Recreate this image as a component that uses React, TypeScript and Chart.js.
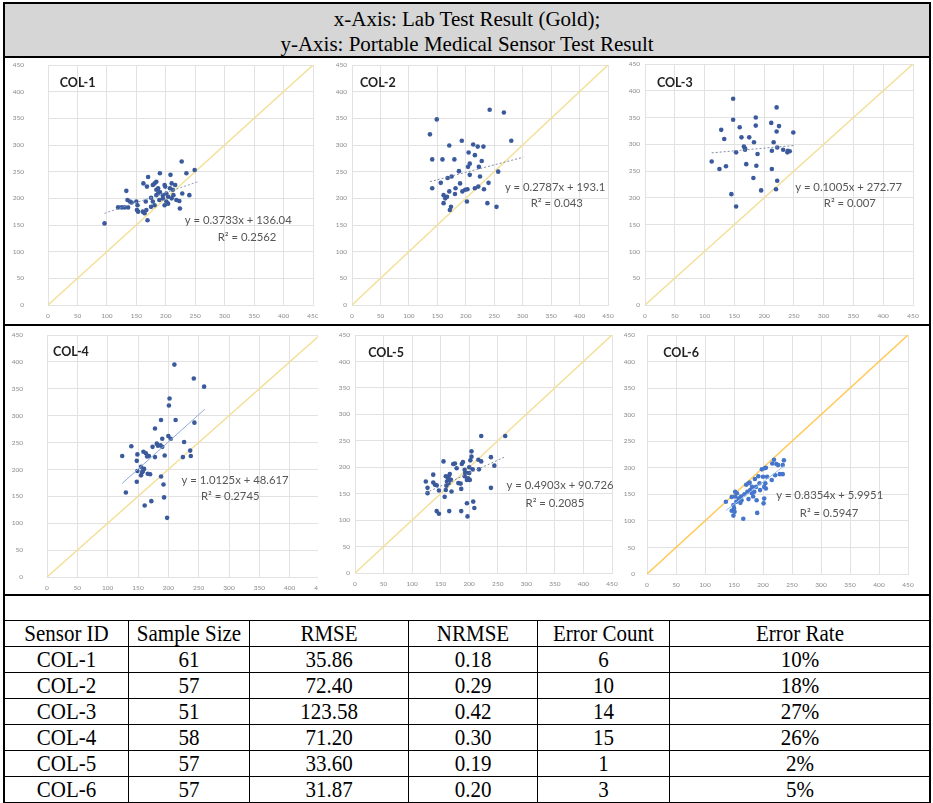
import React, { useEffect, useRef } from "react";
import { Chart, registerables } from "chart.js";

Chart.register(...registerables);

// ---------- DATA ----------
const axisMin = 0;
const axisMax = 450;
const axisStep = 50;

const col1Points: number[][] = [
  [96, 153], [119, 183], [125, 183], [130, 183], [136, 183], [133, 214], [135, 197], [139, 194], [142, 192], [150, 194],
  [151, 178], [152, 187], [153, 175], [161, 175], [164, 172], [167, 178], [166, 194], [162, 228], [168, 222], [170, 240],
  [169, 159], [175, 201], [178, 194], [178, 225], [181, 228], [184, 231], [184, 216], [187, 209], [189, 197], [190, 247],
  [195, 206], [198, 225], [198, 187], [201, 194], [201, 209], [204, 203], [207, 219], [208, 244], [210, 228], [210, 200],
  [212, 216], [213, 206], [218, 197], [223, 195], [224, 181], [227, 269], [228, 209], [240, 206], [235, 247], [249, 253],
  [184, 206], [190, 212], [175, 184], [181, 187], [195, 200], [204, 190], [187, 219], [199, 222], [216, 225],
];

const col2Points: number[][] = [
  [137, 320], [149, 348], [141, 273], [141, 219], [159, 273], [156, 229], [161, 206], [161, 191], [164, 200], [167, 203],
  [168, 238], [171, 299], [171, 213], [175, 241], [174, 184], [172, 178], [180, 273], [181, 208], [182, 219], [188, 251],
  [190, 228], [193, 308], [194, 213], [199, 216], [202, 194], [203, 217], [204, 259], [205, 286], [207, 265], [207, 244],
  [213, 301], [216, 281], [216, 219], [221, 297], [222, 222], [223, 259], [225, 241], [228, 270], [231, 297], [232, 217],
  [238, 191], [240, 229], [242, 366], [254, 184], [257, 250], [267, 361], [280, 308],
];

const col3Points: number[][] = [
  [148, 385], [148, 346], [128, 327], [133, 310], [112, 268], [125, 254], [136, 259], [145, 207], [153, 285], [153, 184],
  [159, 332], [162, 313], [166, 296], [168, 292], [170, 263], [175, 313], [182, 237], [183, 304], [186, 335], [186, 350],
  [187, 260], [189, 282], [195, 214], [212, 340], [213, 288], [213, 254], [216, 304], [220, 216], [221, 324], [221, 369],
  [222, 294], [222, 232], [225, 334], [232, 290], [239, 285], [240, 288], [243, 287], [249, 322], [168, 290],
];

const col4Points: number[][] = [
  [124, 225], [130, 157], [139, 243], [149, 228], [148, 216], [148, 177], [149, 197], [155, 189], [157, 195], [159, 233],
  [160, 201], [161, 133], [163, 230], [166, 192], [168, 225], [172, 141], [174, 242], [178, 276], [178, 223], [181, 248],
  [187, 245], [188, 292], [188, 187], [190, 257], [190, 242], [192, 172], [193, 148], [194, 226], [198, 110], [200, 262],
  [201, 319], [202, 332], [204, 257], [210, 395], [212, 292], [224, 223], [226, 251], [236, 235], [237, 225], [242, 369],
  [243, 287], [259, 354], [170, 191], [183, 244], [165, 224], [155, 205], [158, 197],
];

const col5Points: number[][] = [
  [124, 173], [127, 161], [127, 151], [137, 186], [137, 171], [140, 167], [143, 117], [147, 112], [147, 156], [155, 211],
  [157, 144], [159, 157], [161, 173], [164, 183], [165, 117], [166, 187], [168, 176], [169, 154], [172, 206], [178, 198],
  [181, 170], [186, 159], [186, 117], [187, 206], [192, 183], [196, 176], [196, 132], [197, 107], [200, 189], [202, 213],
  [204, 230], [204, 220], [206, 196], [207, 135], [209, 123], [216, 214], [217, 196], [221, 211], [221, 259], [238, 161],
  [238, 219], [244, 203], [263, 259], [159, 183], [164, 170], [192, 195], [196, 189], [200, 200], [143, 166], [160, 165],
  [163, 178], [185, 169], [198, 179], [201, 176], [193, 189], [175, 207], [189, 210],
];

const col6Points: number[][] = [
  [136, 136], [146, 119], [149, 110], [149, 130], [152, 146], [152, 155], [155, 152], [158, 142], [161, 134], [163, 139],
  [166, 104], [171, 168], [173, 155], [175, 141], [177, 172], [178, 158], [181, 152], [183, 146], [186, 179], [188, 164],
  [189, 139], [190, 115], [192, 184], [194, 171], [195, 158], [198, 197], [200, 183], [201, 133], [202, 142], [202, 164],
  [204, 171], [205, 200], [205, 161], [215, 177], [216, 208], [219, 215], [223, 207], [221, 186], [234, 205], [234, 188],
  [236, 214], [154, 136], [162, 146], [181, 164], [207, 183], [150, 124], [151, 117], [146, 145], [203, 199], [226, 205],
  [229, 188], [175, 171], [168, 150], [185, 155],
];

const allPoints = [col1Points, col2Points, col3Points, col4Points, col5Points, col6Points];

const sensorIds = ["COL-1", "COL-2", "COL-3", "COL-4", "COL-5", "COL-6"];
const slopes = [0.3733, 0.2787, 0.1005, 1.0125, 0.4903, 0.8354];
const intercepts = [136.04, 193.1, 272.77, 48.617, 90.726, 5.9951];
const trendStart = [96, 137, 112, 124, 124, 136];
const trendEnd = [255, 301, 252, 260, 263, 236];
const equationLabels = [
  "y = 0.3733x + 136.04",
  "y = 0.2787x + 193.1",
  "y = 0.1005x + 272.77",
  "y = 1.0125x + 48.617",
  "y = 0.4903x + 90.726",
  "y = 0.8354x + 5.9951",
];
const r2Labels = ["R² = 0.2562", "R² = 0.043", "R² = 0.007", "R² = 0.2745", "R² = 0.2085", "R² = 0.5947"];

const headerLines = ["x-Axis: Lab Test Result (Gold);", "y-Axis: Portable Medical Sensor Test Result"];
const tableHeaders = ["Sensor ID", "Sample Size", "RMSE", "NRMSE", "Error Count", "Error Rate"];
const sampleSizes = ["61", "57", "51", "58", "57", "57"];
const rmseValues = ["35.86", "72.40", "123.58", "71.20", "33.60", "31.87"];
const nrmseValues = ["0.18", "0.29", "0.42", "0.30", "0.19", "0.20"];
const errorCounts = ["6", "10", "14", "15", "1", "3"];
const errorRates = ["10%", "18%", "27%", "26%", "2%", "5%"];

// ---------- LAYOUT / STYLE ----------
type Panel = {
  left: number; top: number; width: number; height: number;
  plotL: number; plotR: number; plotT: number; plotB: number;
  yGap: number;
  titleAt: [number, number]; eqAt: [number, number]; r2At: [number, number];
  diag: string; dot: string; trend: string; dash: number[];
};

const paleDiag = "rgba(242, 222, 150, 0.95)";
const darkDot = "#3a5a9c";
const panels: Panel[] = [
  { left: 5, top: 58, width: 313, height: 266, plotL: 48, plotR: 313, plotT: 65, plotB: 305, yGap: 24,
    titleAt: [20, 416], eqAt: [323, 159], r2At: [338, 127], diag: paleDiag, dot: darkDot, trend: "#8a9cba", dash: [2, 2] },
  { left: 318, top: 58, width: 305, height: 266, plotL: 352, plotR: 608, plotT: 65, plotB: 305, yGap: 5,
    titleAt: [14, 416], eqAt: [357, 221], r2At: [360, 191], diag: paleDiag, dot: darkDot, trend: "#7f8ca3", dash: [2, 2] },
  { left: 623, top: 58, width: 306, height: 266, plotL: 645, plotR: 913, plotT: 64, plotB: 305, yGap: 5,
    titleAt: [20, 415], eqAt: [342, 220], r2At: [344, 190], diag: paleDiag, dot: darkDot, trend: "#7f8ca3", dash: [2, 2] },
  { left: 5, top: 327, width: 325, height: 267, plotL: 47, plotR: 320, plotT: 335, plotB: 577, yGap: 24,
    titleAt: [10, 418], eqAt: [310, 180], r2At: [302, 150], diag: paleDiag, dot: darkDot, trend: "#8eaad8", dash: [] },
  { left: 318, top: 327, width: 305, height: 267, plotL: 355, plotR: 612, plotT: 335, plotB: 573, yGap: 5,
    titleAt: [23, 416], eqAt: [359, 166], r2At: [350, 132], diag: paleDiag, dot: darkDot, trend: "#7f8ca3", dash: [2, 2] },
  { left: 623, top: 327, width: 306, height: 267, plotL: 647, plotR: 908, plotT: 335, plotB: 574, yGap: 12,
    titleAt: [28, 416], eqAt: [315, 149], r2At: [314, 115], diag: "rgba(255, 196, 70, 0.9)", dot: "#4676cc", trend: "#9dc0e8", dash: [] },
];

const gridColor = "#e2e2e2";
const tickColor = "#8a8a8a";
const tickFont = { family: "Lato", size: 6.5 };

function ChartPanel({ idx }: { idx: number }) {
  const ref = useRef<HTMLCanvasElement | null>(null);
  const p = panels[idx];
  useEffect(() => {
    if (!ref.current) return;
    const relL = p.plotL - p.left;
    const relR = p.plotR - p.left;
    const relT = p.plotT - p.top;
    const relB = p.plotB - p.top;
    const pts = allPoints[idx].map(([x, y]) => ({ x, y }));
    const ts = trendStart[idx];
    const te = trendEnd[idx];
    const m = slopes[idx];
    const b = intercepts[idx];
    const ticks: number[] = [];
    for (let v = axisMin; v <= axisMax; v += axisStep) ticks.push(v);

    const annot = {
      id: "annot" + idx,
      afterDatasetsDraw(chart: any) {
        const { ctx, scales } = chart;
        const sx = scales.x;
        const sy = scales.y;
        ctx.save();
        ctx.textBaseline = "middle";
        ctx.textAlign = "left";
        ctx.fillStyle = "#222";
        ctx.font = "bold 12.5px Lato";
        ctx.fillText(sensorIds[idx], sx.getPixelForValue(p.titleAt[0]), sy.getPixelForValue(p.titleAt[1]));
        ctx.textAlign = "center";
        ctx.fillStyle = "#555";
        ctx.font = "11.3px Lato";
        ctx.fillText(equationLabels[idx], sx.getPixelForValue(p.eqAt[0]), sy.getPixelForValue(p.eqAt[1]));
        ctx.fillText(r2Labels[idx], sx.getPixelForValue(p.r2At[0]), sy.getPixelForValue(p.r2At[1]));
        ctx.restore();
      },
    };

    const chart = new Chart(ref.current, {
      type: "scatter",
      data: {
        datasets: [
          {
            data: [{ x: axisMin, y: axisMin }, { x: axisMax, y: axisMax }],
            showLine: true, borderColor: p.diag, borderWidth: 1.5, pointRadius: 0, order: 3,
          } as any,
          {
            data: pts, backgroundColor: p.dot, borderColor: p.dot, pointRadius: 2.3, pointBorderWidth: 0, order: 2,
          } as any,
          {
            data: [{ x: ts, y: m * ts + b }, { x: te, y: m * te + b }],
            showLine: true, borderColor: p.trend, borderWidth: 1, borderDash: p.dash, pointRadius: 0, order: 1,
          } as any,
        ],
      },
      options: {
        responsive: false,
        animation: false,
        events: [],
        layout: { autoPadding: false, padding: { left: 0, top: relT, right: p.width - relR, bottom: 0 } },
        plugins: { legend: { display: false }, tooltip: { enabled: false } },
        scales: {
          x: {
            type: "linear", min: axisMin, max: axisMax,
            afterBuildTicks: (s: any) => { s.ticks = ticks.map((v) => ({ value: v })); },
            afterFit: (s: any) => {
              s.height = p.height - relB;
              s.paddingLeft = 0; s.paddingRight = 0; s.paddingTop = 0; s.paddingBottom = 0;
            },
            ticks: { stepSize: axisStep, padding: 7, color: tickColor, font: tickFont, autoSkip: false, maxRotation: 0 },
            grid: { color: gridColor, drawTicks: false },
            border: { color: gridColor },
          },
          y: {
            type: "linear", min: axisMin, max: axisMax,
            afterBuildTicks: (s: any) => { s.ticks = ticks.map((v) => ({ value: v })); },
            afterFit: (s: any) => {
              s.width = relL;
              s.paddingLeft = 0; s.paddingRight = 0; s.paddingTop = 0; s.paddingBottom = 0;
            },
            ticks: { stepSize: axisStep, padding: p.yGap, color: tickColor, font: tickFont, autoSkip: false },
            grid: { color: gridColor, drawTicks: false },
            border: { color: gridColor },
          },
        },
      } as any,
      plugins: [annot as any],
    });
    return () => chart.destroy();
  }, []);
  return (
    <canvas
      ref={ref}
      width={p.width}
      height={p.height}
      style={{ position: "absolute", left: p.left, top: p.top, width: p.width, height: p.height, background: "#fff" }}
    />
  );
}

const colEdges = [4, 128, 249, 408, 537, 669, 930];
const tableTop = 620;
const rowH = 26;

export default function App() {
  const rows: string[][] = [tableHeaders];
  for (let i = 0; i < sensorIds.length; i++) {
    rows.push([sensorIds[i], sampleSizes[i], rmseValues[i], nrmseValues[i], errorCounts[i], errorRates[i]]);
  }
  const line = (l: number, t: number, w: number, h: number, key: string) => (
    <div key={key} style={{ position: "absolute", left: l, top: t, width: w, height: h, background: "#000", zIndex: 5 }} />
  );
  return (
    <div style={{ position: "absolute", left: 0, top: 0, width: 933, height: 803, overflow: "hidden", background: "#fff" }}>
      <div
        style={{
          position: "absolute", left: 4, top: 3, width: 926, height: 54, background: "#d6d6d6",
          fontFamily: "'Liberation Serif', 'Times New Roman', serif", fontSize: 21, color: "#000", textAlign: "center",
        }}
      >
        <div style={{ position: "absolute", left: 0, right: 0, top: 4, lineHeight: "25px" }}>{headerLines[0]}</div>
        <div style={{ position: "absolute", left: 0, right: 0, top: 29, lineHeight: "25px" }}>{headerLines[1]}</div>
      </div>
      {panels.map((_, i) => (
        <ChartPanel key={i} idx={i} />
      ))}
      {rows.map((r, ri) =>
        r.map((txt, ci) => (
          <div
            key={ri + "-" + ci}
            style={{
              position: "absolute", left: colEdges[ci], top: tableTop + ri * rowH,
              width: colEdges[ci + 1] - colEdges[ci], height: rowH, boxSizing: "border-box",
              borderLeft: "1px solid #000", borderTop: "1px solid #000",
              fontFamily: "'Liberation Serif', 'Times New Roman', serif", fontSize: 21,
              lineHeight: rowH - 1 + "px", textAlign: "center", color: "#000", background: "#fff",
            }}
          >
            <span style={{ display: "inline-block", transform: "scaleY(1.1)" }}>{txt}</span>
          </div>
        ))
      )}
      {line(3, 2, 928, 2, "top")}
      {line(3, 2, 2, 801, "left")}
      {line(929, 2, 2, 801, "right")}
      {line(3, 56, 928, 2, "h1")}
      {line(3, 324, 928, 2, "h2")}
      {line(3, 594, 928, 2, "h3")}
      {line(3, 802, 928, 1, "bottom")}
    </div>
  );
}
